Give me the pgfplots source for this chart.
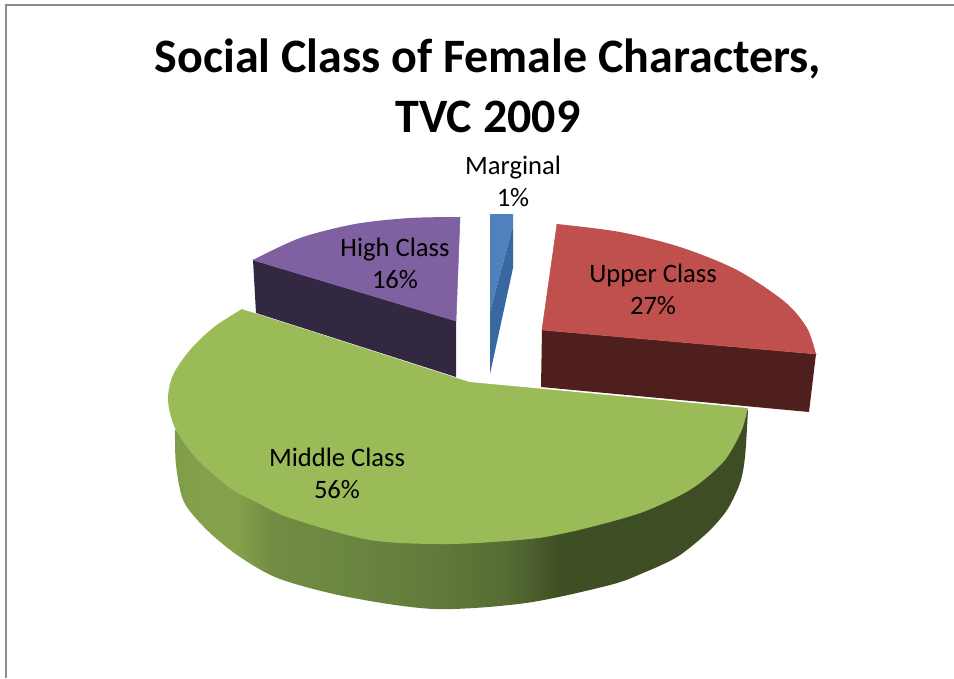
\documentclass[border=0pt]{standalone}
\usepackage{pgfplots}
\pgfplotsset{compat=1.18}
\usepackage{fontspec}
\setmainfont{Carlito}

\definecolor{bluetop}{HTML}{4F81BD}
\definecolor{blueside}{HTML}{38689F}
\definecolor{redtop}{HTML}{C0504D}
\definecolor{redside}{HTML}{4F1F1E}
\definecolor{greentop}{HTML}{9BBB59}
\definecolor{purpletop}{HTML}{7F60A0}
\definecolor{purpleside}{HTML}{322842}
\definecolor{framegrey}{HTML}{8C8C8C}

\definecolor{ga}{HTML}{7F9C48}
\definecolor{gb}{HTML}{84A04B}
\definecolor{gc}{HTML}{728C43}
\definecolor{gd}{HTML}{6B8640}
\definecolor{ge}{HTML}{637B3B}
\definecolor{gf}{HTML}{566C33}
\definecolor{gg}{HTML}{3F4F24}
\definecolor{gh}{HTML}{3E4D24}

% rim of the green slice: the path's box sits on 25bp..75bp
\pgfdeclarehorizontalshading{greenside}{100bp}{
  color(0bp)=(ga);
  color(25bp)=(ga);
  color(27bp)=(gb);
  color(30.5bp)=(gb);
  color(33.5bp)=(gc);
  color(40.5bp)=(gd);
  color(47bp)=(ge);
  color(54bp)=(gf);
  color(58.5bp)=(gg);
  color(68bp)=(gh);
  color(100bp)=(gh)}

\tikzset{lab/.style={align=center, inner sep=0pt, font=\fontsize{26.6}{32}\selectfont}}

\begin{document}
\begin{tikzpicture}
\begin{axis}[
    scale only axis,
    width=954pt, height=678pt,
    xmin=0, xmax=954, ymin=0, ymax=678,
    y dir=reverse,
    hide axis,
]
% page and frame
\addplot[fill=white, draw=none] coordinates {(0,0) (954,0) (954,678) (0,678)} --cycle;
\addplot[framegrey, line width=1.6pt] coordinates {(6,678) (6,5) (954,5)};

% Middle Class 56%: rim, top face, then the cut-out above the two straight edges
\addplot[shade, shading=greenside, draw=none, smooth] coordinates {(175,430) (176,465) (184,502) (208,531)
    (240,557) (280,579) (348,597) (435,609) (526,603) (610,585) (643,573) (677,557)
    (707,533) (727,510) (740,483) (745,457) (748,410)};
\addplot[fill=greentop, draw=none, smooth] coordinates {(748,408) (741,432) (725,460) (700,483) (677,497)
    (643,512) (610,522) (570,532) (530,539) (450,544) (370,540) (290,518) (258,503) (230,488)
    (196,458) (175,428) (168,400) (173,375) (190,350) (214,327) (242,309)};
\addplot[fill=white, draw=none] coordinates {(242,309) (457,378) (470,382) (748,408) (760,290) (242,290)} --cycle;

% High Class 16%
\addplot[fill=purpleside, draw=none] coordinates {(253,260) (456,321) (456,377) (256,313)} --cycle;
\addplot[fill=purpletop, draw=purpletop, line width=0.5pt] coordinates {(253,260) (460,217) (456,321)} --cycle;
\addplot[fill=purpletop, draw=none, smooth] coordinates {(253,260) (300,238) (355,224) (410,218) (460,217)};

% Upper Class 27%
\addplot[fill=redside, draw=none] coordinates {(542,330) (816,354) (809,412) (541,387)} --cycle;
\addplot[fill=redtop, draw=redtop, line width=0.5pt] coordinates {(557,224) (816,354) (542,330)} --cycle;
\addplot[fill=redtop, draw=none, smooth] coordinates {(557,224) (620,232) (680,247) (737,270) (785,302)
    (807,328) (816,354)};

% Marginal 1%
\addplot[fill=bluetop, draw=none] coordinates {(490,214) (513,214) (513,226) (490,312)} --cycle;
\addplot[fill=blueside, draw=none] coordinates {(513,226) (513,268) (490,374) (490,312)} --cycle;

% title and labels
\node[align=center, inner sep=0pt, font=\fontsize{48}{60}\selectfont\bfseries] at (axis cs:488,86) {Social Class of Female Characters,\\TVC 2009};
\node[lab] at (axis cs:513,181) {Marginal\\1\%};
\node[lab] at (axis cs:395,263) {High Class\\16\%};
\node[lab] at (axis cs:653,289) {Upper Class\\27\%};
\node[lab] at (axis cs:337,473) {Middle Class\\56\%};
\end{axis}
\end{tikzpicture}
\end{document}
